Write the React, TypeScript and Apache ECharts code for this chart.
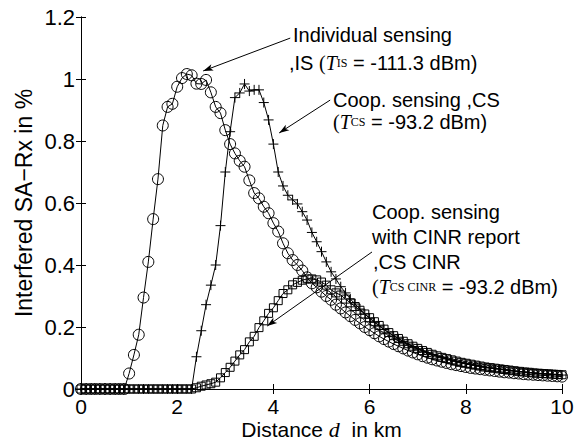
import React, { useEffect, useRef } from "react";
import * as echarts from "echarts";

const distanceKm = [
  0, 0.1, 0.2, 0.3, 0.4, 0.5, 0.6, 0.7, 0.8, 0.9,
  1, 1.1, 1.2, 1.3, 1.4, 1.5, 1.6, 1.7, 1.8, 1.9,
  2, 2.1, 2.2, 2.3, 2.4, 2.5, 2.6, 2.7, 2.8, 2.9,
  3, 3.1, 3.2, 3.3, 3.4, 3.5, 3.6, 3.7, 3.8, 3.9,
  4, 4.1, 4.2, 4.3, 4.4, 4.5, 4.6, 4.7, 4.8, 4.9,
  5, 5.1, 5.2, 5.3, 5.4, 5.5, 5.6, 5.7, 5.8, 5.9,
  6, 6.1, 6.2, 6.3, 6.4, 6.5, 6.6, 6.7, 6.8, 6.9,
  7, 7.1, 7.2, 7.3, 7.4, 7.5, 7.6, 7.7, 7.8, 7.9,
  8, 8.1, 8.2, 8.3, 8.4, 8.5, 8.6, 8.7, 8.8, 8.9,
  9, 9.1, 9.2, 9.3, 9.4, 9.5, 9.6, 9.7, 9.8, 9.9,
  10,
];

const individualSensing = [
  0, 0, 0, 0, 0, 0, 0, 0, 0, 0,
  0.05, 0.11, 0.175, 0.295, 0.41, 0.548, 0.677, 0.85, 0.91, 0.92,
  0.975, 1.003, 1.016, 1.012, 0.985, 0.984, 0.997, 0.957, 0.91, 0.89,
  0.835, 0.79, 0.76, 0.736, 0.717, 0.673, 0.632, 0.615, 0.588, 0.567,
  0.535, 0.508, 0.47, 0.438, 0.416, 0.4, 0.382, 0.36, 0.341, 0.328,
  0.314, 0.3, 0.288, 0.272, 0.26, 0.247, 0.235, 0.223, 0.212, 0.2,
  0.19, 0.18, 0.17, 0.161, 0.153, 0.145, 0.138, 0.131, 0.124, 0.118,
  0.112, 0.106, 0.101, 0.096, 0.092, 0.088, 0.084, 0.08, 0.077, 0.074,
  0.071, 0.068, 0.066, 0.064, 0.062, 0.06, 0.058, 0.056, 0.054, 0.053,
  0.051, 0.05, 0.048, 0.047, 0.046, 0.045, 0.044, 0.043, 0.042, 0.041,
  0.04,
];

const coopSensing = [
  0, 0, 0, 0, 0, 0, 0, 0, 0, 0,
  0, 0, 0, 0, 0, 0, 0, 0, 0, 0,
  0, 0, 0, 0, 0.104, 0.188, 0.272, 0.335, 0.4, 0.527,
  0.7, 0.83, 0.94, 0.955, 0.984, 0.961, 0.965, 0.965, 0.924, 0.868,
  0.79, 0.7, 0.655, 0.625, 0.61, 0.597, 0.572, 0.545, 0.505, 0.475,
  0.443, 0.41, 0.378, 0.355, 0.33, 0.31, 0.29, 0.274, 0.258, 0.242,
  0.228, 0.215, 0.203, 0.192, 0.181, 0.171, 0.162, 0.153, 0.145, 0.137,
  0.13, 0.123, 0.117, 0.111, 0.106, 0.101, 0.097, 0.093, 0.089, 0.085,
  0.082, 0.079, 0.076, 0.073, 0.07, 0.068, 0.066, 0.064, 0.062, 0.06,
  0.058, 0.056, 0.055, 0.053, 0.052, 0.05, 0.049, 0.048, 0.047, 0.046,
  0.045,
];

const coopSensingCinr = [
  0, 0, 0, 0, 0, 0, 0, 0, 0, 0,
  0, 0, 0, 0, 0, 0, 0, 0, 0, 0,
  0, 0, 0, 0, 0.004, 0.009, 0.013, 0.017, 0.022, 0.036,
  0.053, 0.07, 0.09, 0.11, 0.127, 0.152, 0.17, 0.198, 0.22, 0.244,
  0.262, 0.285, 0.308, 0.32, 0.336, 0.344, 0.351, 0.355, 0.355, 0.352,
  0.345, 0.335, 0.32, 0.31, 0.303, 0.29, 0.278, 0.266, 0.254, 0.242,
  0.23, 0.217, 0.205, 0.193, 0.182, 0.172, 0.163, 0.154, 0.146, 0.138,
  0.131, 0.124, 0.118, 0.112, 0.107, 0.102, 0.098, 0.094, 0.09, 0.086,
  0.083, 0.08, 0.077, 0.074, 0.071, 0.069, 0.067, 0.065, 0.063, 0.061,
  0.059, 0.057, 0.055, 0.054, 0.052, 0.051, 0.05, 0.049, 0.048, 0.047,
  0.046,
];

// annotation arrows: [fromX, fromY, toX, toY] in data units
const arrowIS = [4.35, 1.132, 2.54, 1.026];
const arrowCS = [5.18, 0.932, 4.12, 0.826];
const arrowCINR = [6.05, 0.442, 3.87, 0.203];

const SANS = '"Liberation Sans", Arial, Helvetica, sans-serif';
const SERIF = '"Liberation Serif", "Times New Roman", serif';

const richT = {
  p: { fontFamily: SERIF, fontSize: 20, fill: "#000" },
  t: { fontFamily: SERIF, fontStyle: "italic", fontSize: 20, fill: "#000" },
  s: { fontFamily: SERIF, fontSize: 12, fill: "#000" },
};

function pairs(vals: number[]) {
  return distanceKm.map((d, i) => [d, vals[i]]);
}

function arrowData(a: number[]) {
  return [{ coord: [a[0], a[1]] }, { coord: [a[2], a[3]] }];
}

function txt(x: number, y: number, text: string) {
  return {
    type: "text",
    x,
    y,
    silent: true,
    style: {
      text,
      fill: "#000",
      fontFamily: SANS,
      fontSize: 20,
      verticalAlign: "middle",
      align: "left",
      rich: richT,
    },
  };
}

export default function App() {
  const ref = useRef<HTMLDivElement>(null);
  useEffect(() => {
    if (!ref.current) return;
    const chart = echarts.init(ref.current, null, { renderer: "svg" });
    const axisCommon = {
      type: "value",
      axisLine: { show: true, lineStyle: { color: "#000", width: 1 } },
      axisTick: { show: true, inside: true, length: 5, lineStyle: { color: "#000" } },
      splitLine: { show: false },
    };
    const lineBase = {
      type: "line",
      lineStyle: { color: "#000", width: 1 },
      emphasis: { disabled: true },
      z: 2,
    };
    chart.setOption({
      animation: false,
      backgroundColor: "#fff",
      textStyle: { fontFamily: SANS, color: "#000" },
      grid: { left: 81, right: 20, top: 17, bottom: 53, containLabel: false, outerBoundsMode: "none" },
      xAxis: [
        {
          ...axisCommon,
          position: "bottom",
          min: 0,
          max: 10,
          interval: 2,
          axisLabel: { color: "#000", fontSize: 21, lineHeight: 21, margin: 7, fontFamily: SANS },
          name: "Distance {d|d}  in km",
          nameLocation: "middle",
          nameGap: 29,
          nameMoveOverlap: false,
          nameTextStyle: {
            color: "#000",
            fontSize: 21,
            lineHeight: 22,
            fontFamily: SANS,
            rich: { d: { fontFamily: SERIF, fontStyle: "italic", fontSize: 22, lineHeight: 22, color: "#000" } },
          },
        },
        {
          ...axisCommon,
          position: "top",
          min: 0,
          max: 10,
          interval: 2,
          axisLabel: { show: false },
        },
      ],
      yAxis: [
        {
          ...axisCommon,
          position: "left",
          min: 0,
          max: 1.2,
          interval: 0.2,
          axisLabel: { color: "#000", fontSize: 22, margin: 6, fontFamily: SANS },
          name: "Interfered SA\u2212Rx in %",
          nameLocation: "middle",
          nameGap: 46,
          nameMoveOverlap: false,
          nameTextStyle: { color: "#000", fontSize: 23, fontFamily: SANS },
        },
        {
          ...axisCommon,
          position: "right",
          min: 0,
          max: 1.2,
          interval: 0.2,
          axisLabel: { show: false },
        },
      ],
      series: [
        {
          ...lineBase,
          name: "IS",
          data: pairs(individualSensing),
          symbol: "circle",
          symbolSize: 11,
          itemStyle: { color: "rgba(0,0,0,0)", borderColor: "#000", borderWidth: 1 },
          markLine: {
            silent: true,
            symbol: ["none", "arrow"],
            symbolSize: [5, 10],
            label: { show: false },
            lineStyle: { color: "#000", width: 1, type: "solid" },
            emphasis: { disabled: true },
            data: [arrowData(arrowIS), arrowData(arrowCS), arrowData(arrowCINR)],
          },
        },
        {
          ...lineBase,
          name: "CS",
          data: pairs(coopSensing),
          symbol: "path://M5,0V10M0,5H10",
          symbolSize: 10,
          itemStyle: { color: "rgba(0,0,0,0)", borderColor: "#000", borderWidth: 1 },
        },
        {
          ...lineBase,
          name: "CS CINR",
          data: pairs(coopSensingCinr),
          symbol: "rect",
          symbolSize: 8,
          itemStyle: { color: "rgba(0,0,0,0)", borderColor: "#000", borderWidth: 1 },
        },
      ],
      graphic: [
        txt(293, 35, "Individual sensing"),
        txt(289, 63, ",IS {p|(}{t|T}{s|IS} = -111.3 dBm)"),
        txt(333, 100, "Coop. sensing ,CS"),
        txt(333, 122, "{p|(}{t|T}{s|CS} = -93.2 dBm)"),
        txt(372, 212, "Coop. sensing"),
        txt(372, 237, "with CINR report"),
        txt(373, 262, ",CS CINR"),
        txt(372, 287, "{p|(}{t|T}{s|CS CINR} = -93.2 dBm)"),
      ],
    });
    return () => chart.dispose();
  }, []);
  return (
    <div
      ref={ref}
      style={{ position: "absolute", left: 0, top: 0, width: 582, height: 442, background: "#fff" }}
    />
  );
}
